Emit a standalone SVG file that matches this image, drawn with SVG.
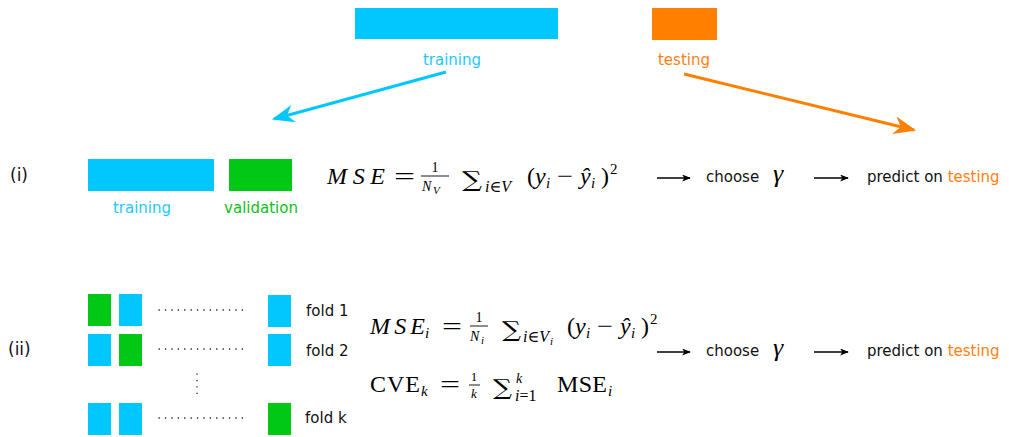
<svg xmlns="http://www.w3.org/2000/svg" width="1009" height="437" viewBox="0 0 1009 437">
<style>
.lbl{font-family:"DejaVu Sans","Bitstream Vera Sans",sans-serif;font-size:15px;fill:#111}
.m{font-family:"Liberation Serif","DejaVu Serif",serif;font-size:24px;fill:#000}
.sig{font-family:"DejaVu Serif","Liberation Serif",serif;font-size:22px;fill:#000}
.it{font-style:italic}
.sub{font-size:15px}
.sb{font-size:16px}
.sm{font-size:14px}
.blue{fill:#00c8ff}
.green{fill:#00c814}
.orange{fill:#ff7f00}
.tb{fill:#1ec8ff}
.tg{fill:#10c020}
.to{fill:#ff8010}
.dots{stroke:#222;stroke-width:1.3;stroke-dasharray:1.3 5.1;fill:none}
.blk{stroke:#000;stroke-width:1.6;fill:none}
.fr{stroke:#000;stroke-width:0.9}
</style>
<defs>
<marker id="ahk" viewBox="0 0 10 8" refX="9" refY="4" markerWidth="12" markerHeight="7" markerUnits="userSpaceOnUse" orient="auto"><path d="M0,0 L10,4 L0,8 L2.5,4 z" fill="#000"/></marker>
<marker id="ahb" viewBox="0 0 10 8" refX="9" refY="4" markerWidth="26" markerHeight="18" markerUnits="userSpaceOnUse" orient="auto"><path d="M0,0 L10,4 L0,8 L3,4 z" fill="#00c8ff"/></marker>
<marker id="aho" viewBox="0 0 10 8" refX="9" refY="4" markerWidth="26" markerHeight="18" markerUnits="userSpaceOnUse" orient="auto"><path d="M0,0 L10,4 L0,8 L3,4 z" fill="#ff7f00"/></marker>
</defs>
<rect width="1009" height="437" fill="#fff"/>

<g id="top-training">
<rect class="blue" x="355" y="8" width="203" height="31"/>
<text class="lbl tb" x="452" y="65" text-anchor="middle">training</text>
</g>
<g id="top-testing">
<rect class="orange" x="652" y="8" width="65" height="32"/>
<text class="lbl to" x="684" y="65" text-anchor="middle">testing</text>
</g>

<g id="connectors">
<line x1="446" y1="72" x2="274" y2="119" stroke="#00c8ff" stroke-width="3" marker-end="url(#ahb)"/>
<line x1="684" y1="74" x2="914" y2="130" stroke="#ff7f00" stroke-width="3" marker-end="url(#aho)"/>
<line class="blk" x1="657" y1="178" x2="690" y2="178" marker-end="url(#ahk)"/>
<line class="blk" x1="814" y1="178" x2="848" y2="178" marker-end="url(#ahk)"/>
<line class="blk" x1="657" y1="352" x2="690" y2="352" marker-end="url(#ahk)"/>
<line class="blk" x1="814" y1="352" x2="848" y2="352" marker-end="url(#ahk)"/>
</g>

<g id="row-i">
<text class="lbl" x="10" y="181" style="font-size:17px">(i)</text>
<rect class="blue" x="88" y="159" width="126" height="32"/>
<rect class="green" x="229" y="159" width="63" height="32"/>
<text class="lbl tb" x="142" y="213" text-anchor="middle">training</text>
<text class="lbl tg" x="261" y="213" text-anchor="middle">validation</text>
</g>

<g id="formula-i">
<text class="m it" x="327" y="184" textLength="58" lengthAdjust="spacing">MSE</text>
<text class="m" x="394" y="184" textLength="21" lengthAdjust="spacingAndGlyphs">=</text>
<text class="m sm" x="435" y="172" text-anchor="middle">1</text>
<line class="fr" x1="421" y1="176" x2="449" y2="176"/>
<text class="m sm it" x="422" y="191">N</text>
<text class="m it" x="433" y="194" style="font-size:11px">V</text>
<text class="sig" x="462" y="187" textLength="20" lengthAdjust="spacingAndGlyphs">∑</text>
<text class="m sb" x="485" y="192"><tspan class="it">i</tspan>∈<tspan class="it">V</tspan></text>
<text class="m" x="527" y="184">(</text>
<text class="m it" x="535" y="184">y</text>
<text class="m sub it" x="546" y="188">i</text>
<text class="m" x="557" y="184" textLength="16" lengthAdjust="spacingAndGlyphs">−</text>
<text class="m it" x="580" y="184">ŷ</text>
<text class="m sub it" x="591" y="188">i</text>
<text class="m" x="601" y="184">)</text>
<text class="m sub" x="610" y="174">2</text>
</g>

<g id="choose-i">
<text class="lbl" x="706" y="182">choose</text>
<text class="m it" x="773" y="182" style="font-size:26px">γ</text>
</g>
<g id="predict-i">
<text class="lbl" x="867" y="182">predict on <tspan class="to">testing</tspan></text>
</g>

<g id="row-ii">
<text class="lbl" x="8" y="355" style="font-size:17px">(ii)</text>
</g>
<g id="fold-1">
<rect class="green" x="88" y="294" width="23" height="32"/>
<rect class="blue" x="119" y="294" width="23" height="32"/>
<line class="dots" x1="158.5" y1="310" x2="248" y2="310"/>
<rect class="blue" x="268" y="295" width="23" height="32"/>
<text class="lbl" x="306" y="316">fold 1</text>
</g>
<g id="fold-2">
<rect class="blue" x="88" y="334" width="23" height="32"/>
<rect class="green" x="119" y="334" width="23" height="32"/>
<line class="dots" x1="158.5" y1="349" x2="248" y2="349"/>
<rect class="blue" x="268" y="334" width="23" height="32"/>
<text class="lbl" x="306" y="356">fold 2</text>
</g>
<g id="vdots">
<line class="dots" x1="197" y1="373.5" x2="197" y2="394"/>
</g>
<g id="fold-k">
<rect class="blue" x="88" y="403" width="23" height="32"/>
<rect class="blue" x="119" y="403" width="23" height="32"/>
<line class="dots" x1="158.5" y1="418" x2="248" y2="418"/>
<rect class="green" x="268" y="403" width="23" height="32"/>
<text class="lbl" x="305" y="423">fold k</text>
</g>

<g id="formula-ii">
<text class="m it" x="370" y="334" textLength="55" lengthAdjust="spacing">MSE</text>
<text class="m sub it" x="425" y="338">i</text>
<text class="m" x="442" y="334" textLength="20" lengthAdjust="spacingAndGlyphs">=</text>
<text class="m sm" x="479" y="322" text-anchor="middle">1</text>
<line class="fr" x1="470" y1="326" x2="488" y2="326"/>
<text class="m sm it" x="470" y="341">N</text>
<text class="m it" x="481" y="344" style="font-size:11px">i</text>
<text class="sig" x="502" y="337" textLength="19" lengthAdjust="spacingAndGlyphs">∑</text>
<text class="m sb" x="523" y="342"><tspan class="it">i</tspan>∈<tspan class="it">V</tspan></text>
<text class="m it" x="550" y="345" style="font-size:11px">i</text>
<text class="m" x="567" y="334">(</text>
<text class="m it" x="575" y="334">y</text>
<text class="m sub it" x="586" y="338">i</text>
<text class="m" x="597" y="334" textLength="16" lengthAdjust="spacingAndGlyphs">−</text>
<text class="m it" x="620" y="334">ŷ</text>
<text class="m sub it" x="631" y="338">i</text>
<text class="m" x="641" y="334">)</text>
<text class="m sub" x="650" y="324">2</text>

<text class="m" x="370" y="392" textLength="50" lengthAdjust="spacing">CVE</text>
<text class="m sub it" x="421" y="396">k</text>
<text class="m" x="440" y="392" textLength="20" lengthAdjust="spacingAndGlyphs">=</text>
<text class="m" x="474" y="381" text-anchor="middle" style="font-size:13px">1</text>
<line class="fr" x1="469" y1="385" x2="480" y2="385"/>
<text class="m it" x="474" y="398" text-anchor="middle" style="font-size:13px">k</text>
<text class="sig" x="493" y="395" textLength="19" lengthAdjust="spacingAndGlyphs">∑</text>
<text class="m sm it" x="516" y="383">k</text>
<text class="m sb" x="515" y="401"><tspan class="it">i</tspan>=1</text>
<text class="m" x="557" y="392" textLength="50" lengthAdjust="spacing">MSE</text>
<text class="m sub it" x="608" y="396">i</text>
</g>

<g id="choose-ii">
<text class="lbl" x="706" y="356">choose</text>
<text class="m it" x="773" y="356" style="font-size:26px">γ</text>
</g>
<g id="predict-ii">
<text class="lbl" x="867" y="356">predict on <tspan class="to">testing</tspan></text>
</g>
</svg>
